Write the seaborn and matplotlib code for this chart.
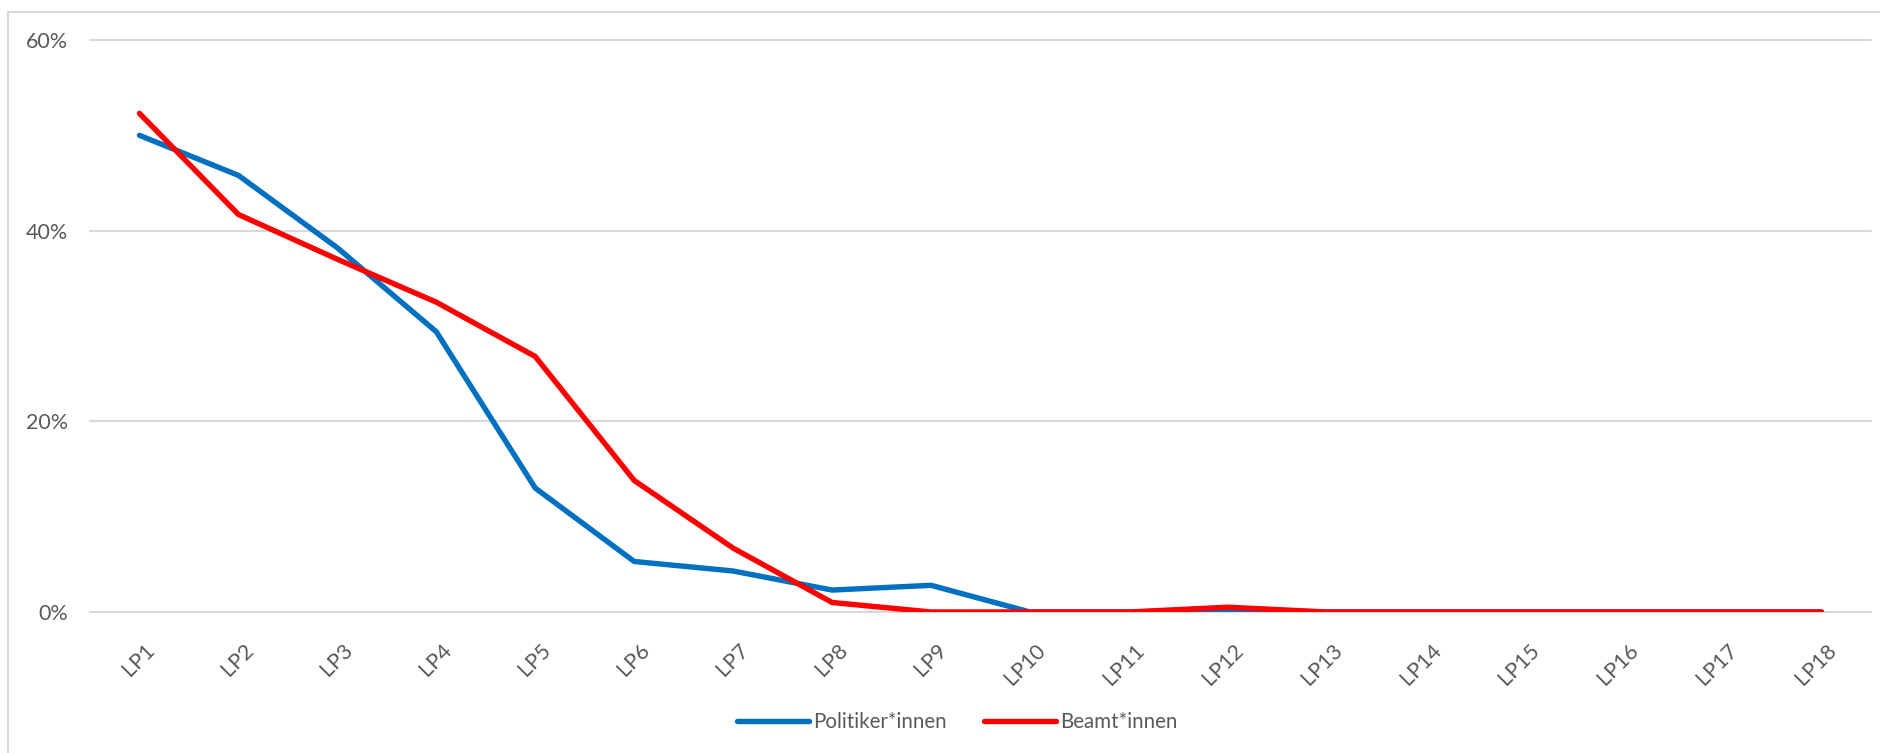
import matplotlib
matplotlib.use("Agg")
import matplotlib.pyplot as plt
import matplotlib.transforms as mtransforms
from matplotlib.patches import Rectangle
import seaborn as sns
import pandas as pd

# ---- data ----
periods = [f"LP{i}" for i in range(1, 19)]
politiker = [50.0, 45.8, 38.2, 29.4, 13.0, 5.3, 4.3, 2.3, 2.8, 0.0, 0.0, 0.0, 0.0, 0.0, 0.0, 0.0, 0.0, 0.0]
beamte = [52.3, 41.7, 37.0, 32.5, 26.8, 13.8, 6.7, 1.0, 0.0, 0.0, 0.0, 0.5, 0.0, 0.0, 0.0, 0.0, 0.0, 0.0]
series_names = ["Politiker*innen", "Beamt*innen"]
y_ticks = [0, 20, 40, 60]
y_tick_labels = ["0%", "20%", "40%", "60%"]

df = pd.DataFrame({
    "LP": periods * 2,
    "Anteil": politiker + beamte,
    "Gruppe": [series_names[0]] * len(periods) + [series_names[1]] * len(periods),
})

sns.set_theme(style="white")
plt.rcParams["font.family"] = ["Lato", "DejaVu Sans"]

W, H, DPI = 1881, 753, 100
fig = plt.figure(figsize=(W / DPI, H / DPI), dpi=DPI)
left, right = 90 / W, 1871 / W
bottom, top = 1 - 612 / H, 1 - 40 / H
ax = fig.add_axes([left, bottom, right - left, top - bottom])

# outer chart border
fig.patches.append(Rectangle((8 / W, -0.05), 1.2, 1 - 12 / H + 0.05, transform=fig.transFigure,
                             fill=False, edgecolor="#D9D9D9", linewidth=1.5, zorder=0))

palette = {series_names[0]: "#0070C0", series_names[1]: "#FF0000"}
sns.lineplot(data=df, x="LP", y="Anteil", hue="Gruppe", hue_order=series_names,
             palette=palette, sort=False, linewidth=3.9, ax=ax, legend=True)
for ln in ax.lines:
    ln.set_solid_capstyle("round")
    ln.set_solid_joinstyle("round")

ax.set_xlim(-0.5, len(periods) - 0.5)
ax.set_ylim(0, 60)
ax.set_yticks(y_ticks)
ax.set_yticklabels(y_tick_labels)
ax.set_xlabel("")
ax.set_ylabel("")
for s in ax.spines.values():
    s.set_visible(False)
ax.yaxis.grid(True, color="#D9D9D9", linewidth=1.5)
ax.xaxis.grid(False)
ax.set_axisbelow(True)
for ln in ax.get_ygridlines():
    ln.set_clip_on(False)

label_color = "#595959"
ax.tick_params(axis="y", length=0, pad=16, labelsize=15.5, labelcolor=label_color)
ax.tick_params(axis="x", length=0, pad=20, labelsize=15.5, labelcolor=label_color)
offset = mtransforms.ScaledTranslation(5 / DPI, 0, fig.dpi_scale_trans)
for lbl in ax.get_xticklabels():
    lbl.set_rotation(45)
    lbl.set_rotation_mode("anchor")
    lbl.set_ha("right")
    lbl.set_va("top")
    lbl.set_transform(lbl.get_transform() + offset)

handles, labels = ax.get_legend_handles_labels()
ax.get_legend().remove()
leg = fig.legend(handles, labels, loc="center", bbox_to_anchor=(957 / W, 1 - 722 / H),
                 ncol=2, frameon=False, fontsize=14.8, handlelength=3.5,
                 handletextpad=0.2, columnspacing=1.8)
for t in leg.get_texts():
    t.set_color(label_color)
for h in leg.get_lines():
    h.set_linewidth(3.9)
    h.set_solid_capstyle("round")

fig.savefig("out.png", dpi=DPI, facecolor="white")
